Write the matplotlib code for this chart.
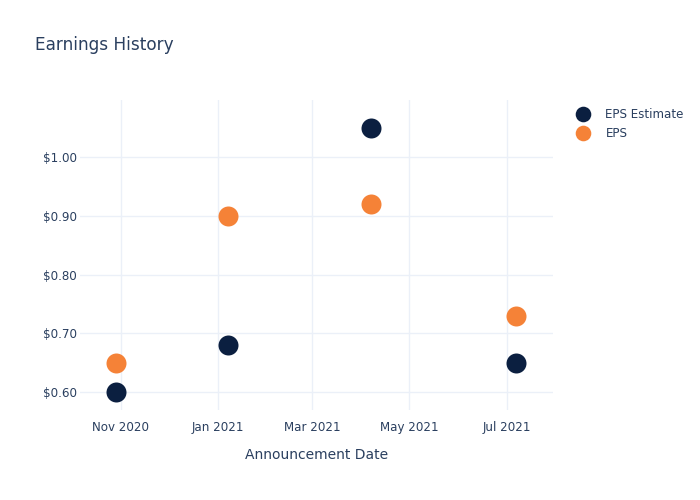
import matplotlib
matplotlib.use("Agg")
import matplotlib.pyplot as plt
import matplotlib.dates as mdates
import numpy as np
import pandas as pd

dates = ["2020-10-29", "2021-01-07", "2021-04-07", "2021-07-07"]
eps_estimate = [0.60, 0.68, 1.05, 0.65]
eps_actual = [0.65, 0.90, 0.92, 0.73]
tick_dates = ["2020-11-01", "2021-01-01", "2021-03-01", "2021-05-01", "2021-07-01"]
tick_labels = ["Nov 2020", "Jan 2021", "Mar 2021", "May 2021", "Jul 2021"]
y_ticks = [0.60, 0.70, 0.80, 0.90, 1.00]

TEXT = "#2a3f5f"
GRID = "#ebf0f8"
NAVY = "#0b1f40"
ORANGE = "#f58237"

plt.rcParams['font.family'] = ['DejaVu Sans']

fig = plt.figure(figsize=(7, 5), dpi=100)
ax = fig.add_axes([80/700, 90/500, (553-80)/700, (410-100)/500])

x = pd.to_datetime(dates)
ax.plot(x, eps_estimate, 'o', color=NAVY, markersize=14.4, markeredgewidth=0,
        label="EPS Estimate", zorder=3)
ax.plot(x, eps_actual, 'o', color=ORANGE, markersize=14.4, markeredgewidth=0,
        label="EPS", zorder=3)

ax.set_xlim(pd.Timestamp("2020-10-06 12:00"), pd.Timestamp("2021-07-30"))
ax.set_ylim(0.569, 1.098)

ax.set_xticks(pd.to_datetime(tick_dates))
ax.set_xticklabels(tick_labels)
ax.set_yticks(y_ticks)
ax.set_yticklabels([f"${v:.2f}" for v in y_ticks])

ax.grid(True, color=GRID, linewidth=1)
ax.set_axisbelow(True)
for s in ax.spines.values():
    s.set_visible(False)
ax.tick_params(axis='both', length=0, labelsize=8.6, colors=TEXT)
ax.tick_params(axis='x', pad=8)
ax.tick_params(axis='y', pad=2)

ax.set_xlabel("Announcement Date", fontsize=10, color=TEXT, labelpad=10)

fig.text(35/700, 1 - 45/500, "Earnings History", fontsize=12.2, color=TEXT,
         va='center', ha='left')

leg = fig.legend(loc='upper left', bbox_to_anchor=(572/700, 1 - 103/500),
                 frameon=False, fontsize=8.6, handletextpad=1.4,
                 labelspacing=0.55, borderaxespad=0, handlelength=1.0,
                 markerscale=0.78)
for t in leg.get_texts():
    t.set_color(TEXT)

fig.savefig("out.png", dpi=100)
